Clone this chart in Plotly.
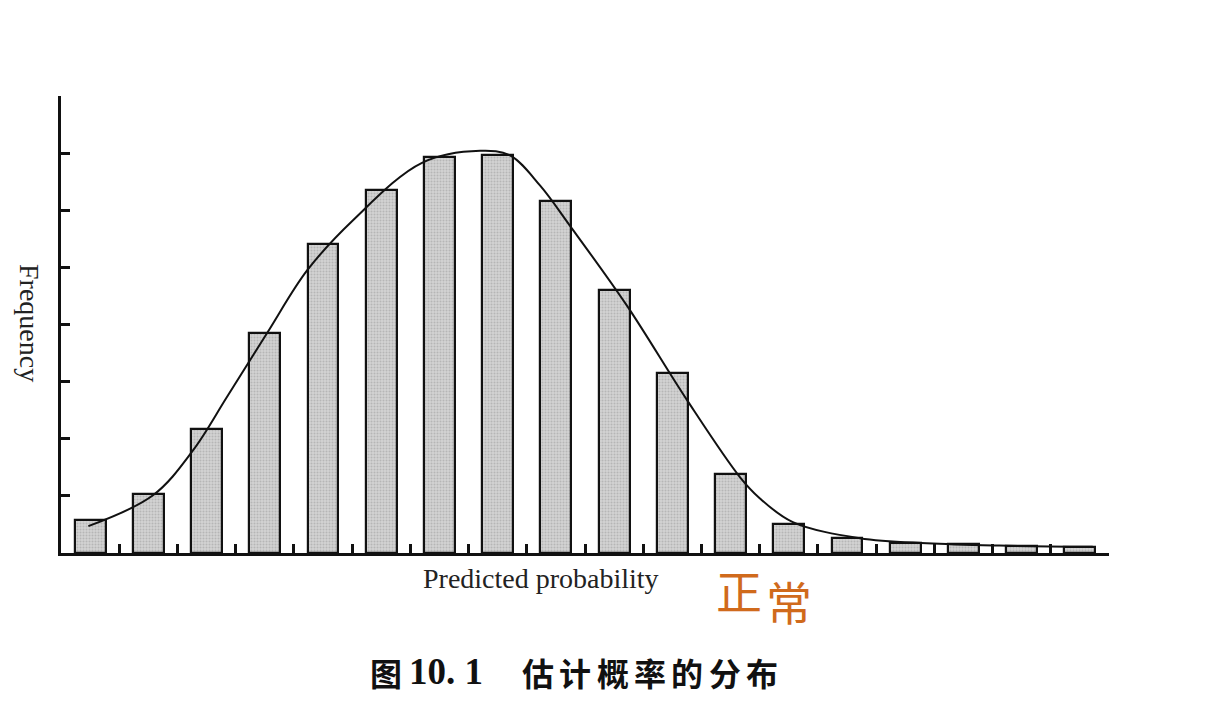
import plotly.graph_objects as go

# Bar data (bin index -> frequency, in y-axis tick units)
bins = list(range(18))
freq = [0.58, 1.03, 2.17, 3.85, 5.41, 6.36, 6.93, 6.97, 6.16, 4.61,
        3.15, 1.38, 0.51, 0.26, 0.18, 0.15, 0.12, 0.10]

# Smooth density curve
curve_x = [-0.03, 1.08, 1.77, 2.35, 3.04, 3.73, 4.52, 5.70, 6.70,
           7.21, 7.73, 8.24, 9.22, 10.25, 11.16, 11.50, 12.07,
           13.22, 14.37, 15.62, 17.22]
curve_y = [0.47, 1.01, 1.80, 2.73, 3.85, 4.95, 5.83, 6.83, 7.04,
           6.96, 6.43, 5.73, 4.33, 2.68, 1.33, 0.96, 0.54,
           0.26, 0.17, 0.13, 0.11]

y_ticks = list(range(9))
x_ticks = [b + 0.5 for b in range(-1, 18)]

title_num = "10. 1"
title_chars = ["估", "计", "概", "率", "的", "分", "布"]
title_char_px = [538, 575, 613, 650, 687, 725, 762]

fig = go.Figure()
fig.add_trace(go.Bar(
    x=bins, y=freq, width=0.53,
    marker=dict(color="#c8c8c8", line=dict(color="#111111", width=2.2),
                pattern=dict(shape=".", fgcolor="#9a9a9a", bgcolor="#d2d2d2",
                             size=3, solidity=0.35)),
    showlegend=False, hoverinfo="skip",
))
fig.add_trace(go.Scatter(
    x=curve_x, y=curve_y, mode="lines",
    line=dict(color="#111111", width=2, shape="spline", smoothing=1.0),
    showlegend=False, hoverinfo="skip",
))

fig.update_layout(
    width=1220, height=718,
    margin=dict(l=61, r=111, t=96, b=165),
    paper_bgcolor="white", plot_bgcolor="white",
    xaxis=dict(range=[-0.5, 17.5], showgrid=False, zeroline=False,
               showline=True, linecolor="#111111", linewidth=3,
               ticks="inside", ticklen=9, tickwidth=3, tickcolor="#111111",
               tickvals=x_ticks, showticklabels=False),
    yaxis=dict(range=[0, 8], showgrid=False, zeroline=False,
               showline=True, linecolor="#111111", linewidth=3,
               ticks="inside", ticklen=9, tickwidth=2.5, tickcolor="#111111",
               tickvals=y_ticks, showticklabels=False),
    bargap=0,
)

cjk = "Noto Sans CJK SC"
annotations = [
    dict(text="Frequency", x=30, y=323, textangle=90,
         font=dict(family="Liberation Serif", size=28, color="#222222")),
    dict(text="Predicted probability", x=541, y=578,
         font=dict(family="Liberation Serif", size=28, color="#222222")),
    dict(text="<b>图</b>", x=386, y=672,
         font=dict(family=cjk, size=32, color="#111111")),
    dict(text="<b>" + title_num + "</b>", x=446, y=671,
         font=dict(family="Liberation Serif", size=37, color="#111111")),
    dict(text="正", x=739, y=589,
         font=dict(family=cjk, size=46, color="#d06a1c")),
    dict(text="常", x=789, y=600,
         font=dict(family=cjk, size=46, color="#d06a1c")),
]
for ch, px in zip(title_chars, title_char_px):
    annotations.append(dict(text="<b>" + ch + "</b>", x=px, y=672,
                            font=dict(family=cjk, size=32, color="#111111")))

# convert pixel positions to paper coordinates
for a in annotations:
    a["xref"] = "paper"
    a["yref"] = "paper"
    a["showarrow"] = False
    a["x"] = (a["x"] - 61) / (1220 - 61 - 111)
    a["y"] = (718 - 165 - a["y"]) / (718 - 96 - 165)
    a["xanchor"] = "center"
    a["yanchor"] = "middle"
fig.update_layout(annotations=annotations)

fig.write_html("out.html")
